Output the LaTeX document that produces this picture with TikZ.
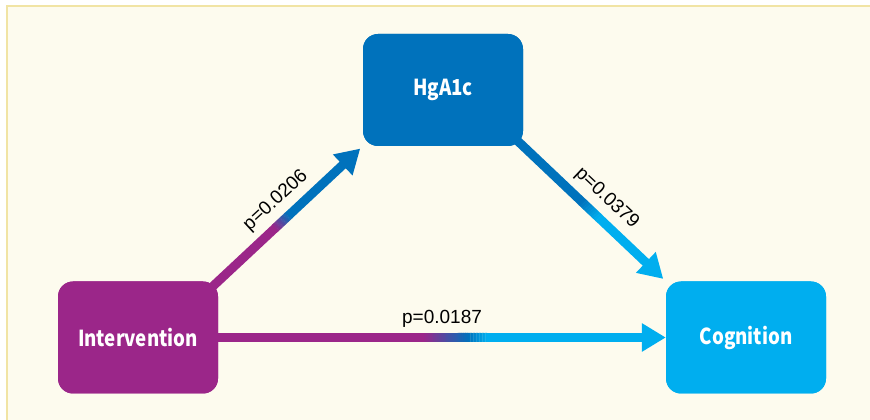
\documentclass[tikz,border=0pt]{standalone}
\usepackage{fontspec}
\setmainfont{Liberation Sans}
\newfontfamily\boxfont{Noto Sans CJK JP}[FakeStretch=0.85]
\usetikzlibrary{arrows.meta,calc}

\definecolor{cpurple}{HTML}{9B2689}
\definecolor{cblue}{HTML}{0072BC}
\definecolor{ccyan}{HTML}{00AEEF}
\definecolor{cream}{HTML}{FDFBEE}
\definecolor{cborder}{HTML}{F1E4A4}

\tikzset{
  box/.style={rounded corners=15pt, minimum width=160pt, minimum height=112pt,
    inner sep=0pt, text=white, font=\boxfont\bfseries\fontsize{22}{26}\selectfont},
  link/.style={line width=9pt},
  linktip/.style={link, -{Triangle[length=24pt,width=27pt]}},
  plabel/.style={inner sep=0pt, anchor=base, font=\fontsize{19}{22}\selectfont}
}

% colour ramp along a straight connector: from #1 to #2, between fractions #3 and #4,
% blending colour #5 into colour #6
\newcommand\ramp[6]{%
  \foreach \k in {0,...,23}{%
    \pgfmathsetmacro\ta{#3+(#4-#3)*\k/24}%
    \pgfmathsetmacro\tb{#3+(#4-#3)*(\k+1.4)/24}%
    \pgfmathtruncatemacro\mixp{100-100*(\k+0.5)/24}%
    \draw[link, color=#5!\mixp!#6] ($(#1)!\ta!(#2)$) -- ($(#1)!\tb!(#2)$);
  }%
}

\begin{document}
\begin{tikzpicture}[x=1pt,y=1pt]
  \useasboundingbox (0,0) rectangle (870,420);
  \fill[white] (0,0) rectangle (870,420);
  \filldraw[fill=cream, draw=cborder, line width=1.5pt] (7,414) rectangle (885,-10);

  % boxes (placed first so the connectors can refer to them)
  \node[box, fill=cpurple] (int) at (138,82.5) {Intervention};
  \node[box, fill=cblue]   (hba) at (443,330) {HgA1c};
  \node[box, fill=ccyan]   (cog) at (746,82.5) {Cognition};

  % connector end points
  \coordinate (a1) at (int.north east);
  \coordinate (b1) at ($(hba.south west)!3.5pt!(int.north east)$);
  \coordinate (a2) at (hba.south east);
  \coordinate (b2) at ($(cog.north west)!3.5pt!(hba.south east)$);
  \coordinate (a3) at (int.east);
  \coordinate (b3) at (cog.west);

  % Intervention -> HgA1c
  \draw[link, cpurple] ($(a1)!-14pt!(b1)$) -- ($(a1)!0.405!(b1)$);
  \ramp{a1}{b1}{0.40}{0.50}{cpurple}{cblue}
  \draw[linktip, cblue] ($(a1)!0.5!(b1)$) -- (b1);

  % HgA1c -> Cognition
  \draw[link, cblue] ($(a2)!-14pt!(b2)$) -- ($(a2)!0.425!(b2)$);
  \ramp{a2}{b2}{0.42}{0.54}{cblue}{ccyan}
  \draw[linktip, ccyan] ($(a2)!0.54!(b2)$) -- (b2);

  % Intervention -> Cognition
  \draw[link, cpurple] ($(a3)!-10pt!(b3)$) -- ($(a3)!0.465!(b3)$);
  \ramp{a3}{b3}{0.46}{0.56}{cpurple}{cblue}
  \ramp{a3}{b3}{0.56}{0.60}{cblue}{ccyan}
  \draw[linktip, ccyan] ($(a3)!0.60!(b3)$) -- (b3);

  % redraw the boxes over the connector ends
  \node[box, fill=cpurple] at (int) {Intervention};
  \node[box, fill=cblue]   at (hba) {HgA1c};
  \node[box, fill=ccyan]   at (cog) {Cognition};

  % p-values
  \coordinate (m1) at ($(a1)!0.5!(b1)$);
  \coordinate (m2) at ($(a2)!0.5!(b2)$);
  \coordinate (m3) at ($(a3)!0.5!(b3)$);
  \node[plabel, rotate=42.66] (p1) at ($(m1)!15pt!90:(b1)$) {p=0.0206};
  \node[plabel, rotate=-43.38] (p2) at ($(m2)!15pt!90:(b2)$) {p=0.0379};
  \node[plabel] (p3) at ($(m3)!14pt!90:(b3)$) {p=0.0187};
\end{tikzpicture}
\end{document}
